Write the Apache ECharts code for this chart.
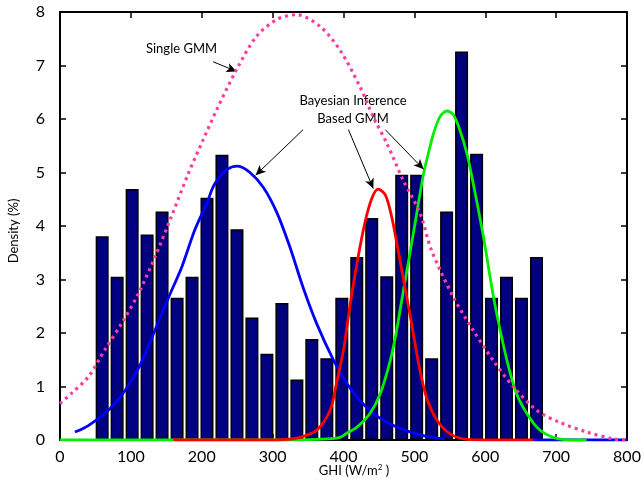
<!DOCTYPE html>
<html>
<head>
<meta charset="utf-8">
<script src="https://cdn.jsdelivr.net/npm/echarts@6/dist/echarts.min.js"></script>
<style>
html,body{margin:0;padding:0;background:#fff;}
#chart{width:644px;height:487px;}
</style>
</head>
<body>
<div id="chart"></div>
<script>
// Histogram bin centres (GHI, W/m2) and densities (%)
var binCenters = [59.5, 80.6, 101.8, 122.9, 144.0, 165.2, 186.3, 207.4, 228.5, 249.7,
                  270.8, 291.9, 313.1, 334.2, 355.3, 376.5, 397.6, 418.7, 439.8, 461.0,
                  482.1, 503.2, 524.4, 545.5, 566.6, 587.8, 608.9, 630.0, 651.1, 672.3];
var density = [3.81, 3.05, 4.69, 3.84, 4.27, 2.66, 3.05, 4.53, 5.33, 3.94,
               2.29, 1.61, 2.56, 1.13, 1.89, 1.53, 2.66, 3.42, 4.15, 3.06,
               4.96, 4.96, 1.53, 4.27, 7.26, 5.35, 2.66, 3.05, 2.66, 3.42];

// Single GMM (pink dotted)
var singleGmm = [[0,0.68],[16,0.87],[40,1.18],[63,1.68],[87,2.18],[110,2.72],[134,3.42],
  [157,4.17],[181,4.98],[202,5.61],[221,6.17],[249,6.92],[277,7.54],[306,7.86],[334,7.95],
  [367,7.73],[395,7.29],[423,6.61],[442,6.04],[461,5.55],[484,4.86],[508,4.24],[524,3.55],
  [555,2.67],[583,2.05],[611,1.49],[640,0.99],[673,0.55],[705,0.33],[743,0.15],[781,0.02],[800,0]];

// Bayesian inference based GMM components
var compBlue = [[21,0.15],[40,0.27],[70,0.58],[92,0.93],[113,1.40],[134,2.05],[153,2.66],
  [172,3.24],[190,3.92],[207,4.42],[218,4.78],[235,5.05],[251,5.12],[268,5.00],[287,4.72],
  [306,4.25],[324,3.62],[343,2.85],[362,2.18],[386,1.49],[405,1.05],[423,0.74],[442,0.50],
  [461,0.33],[489,0.17],[517,0.07],[543,0.02]];
var compBlueTail = [[668,0],[800,0]];
var compRed = [[160,0],[300,0],[320,0.01],[339,0.05],[362,0.18],[381,0.55],[390,1.05],
  [400,1.68],[409,2.5],[419,3.30],[430,4.05],[440,4.52],[449,4.69],[459,4.58],[468,4.17],
  [477,3.55],[487,2.83],[496,2.18],[506,1.43],[517,0.80],[532,0.37],[550,0.12],[574,0.01],
  [600,0],[668,0]];
var compGreen = [[0,0],[330,0],[376,0.02],[395,0.05],[405,0.13],[419,0.24],[437,0.49],
  [452,0.87],[466,1.49],[475,2.05],[482,2.6],[492,3.36],[501,4.05],[513,4.98],[522,5.48],
  [527,5.73],[536,6.04],[546,6.15],[555,6.08],[564,5.80],[574,5.36],[584,4.73],[597,3.83],
  [611,2.72],[621,2.05],[633,1.36],[644,0.87],[659,0.49],[675,0.21],[696,0.05],[724,0],[743,0]];

// Annotation arrows (data coordinates: start -> tip)
var arrows = [
  [[216,7.07],[249,6.89]],
  [[343,5.80],[276,4.95]],
  [[407,5.80],[442,4.70]],
  [[459,5.80],[513,5.06]]
];

var xTicks = {min:0, max:800, interval:100};
var yTicks = {min:0, max:8, interval:1};

var FONT = 'Lato, "Open Sans", sans-serif';
var chart = echarts.init(document.getElementById('chart'), null, {renderer:'canvas'});

function bars(){
  var d = [];
  for (var i=0;i<binCenters.length;i++) d.push([binCenters[i], density[i]]);
  return d;
}

var axisLineStyle = {show:true, onZero:false, lineStyle:{color:'#000', width:2}};
var tickStyle = {show:true, inside:true, length:6, lineStyle:{color:'#000', width:1.5}};
var option = {
  animation:false,
  backgroundColor:'#fff',
  grid:{left:60, right:17, top:12, bottom:47, containLabel:false},
  xAxis:[
    {type:'value', min:xTicks.min, max:xTicks.max, interval:xTicks.interval, position:'bottom',
     axisLine:axisLineStyle, axisTick:tickStyle,
     axisLabel:{show:true, margin:9, fontSize:16, color:'#000', fontFamily:FONT},
     splitLine:{show:false}},
    {type:'value', min:xTicks.min, max:xTicks.max, interval:xTicks.interval, position:'top',
     axisLine:axisLineStyle, axisTick:tickStyle,
     axisLabel:{show:false}, splitLine:{show:false}}
  ],
  yAxis:[
    {type:'value', min:yTicks.min, max:yTicks.max, interval:yTicks.interval, position:'left',
     axisLine:axisLineStyle, axisTick:tickStyle,
     axisLabel:{show:true, margin:15, fontSize:16, color:'#000', fontFamily:FONT},
     splitLine:{show:false}},
    {type:'value', min:yTicks.min, max:yTicks.max, interval:yTicks.interval, position:'right',
     axisLine:axisLineStyle, axisTick:tickStyle,
     axisLabel:{show:false}, splitLine:{show:false}}
  ],
  series:[
    {type:'bar', name:'Histogram', data:bars(), barWidth:13,
     itemStyle:{color:'#000080', borderColor:'#000', borderWidth:1.5}, z:1},
    {type:'line', name:'Blue', data:compBlue, showSymbol:false, smooth:0.3,
     lineStyle:{color:'#0000ff', width:2.8}, z:3},
    {type:'line', name:'BlueTail', data:compBlueTail, showSymbol:false,
     lineStyle:{color:'#0000ff', width:2.8}, z:3},
    {type:'line', name:'Green', data:compGreen, showSymbol:false, smooth:0.3,
     lineStyle:{color:'#00ee00', width:2.8}, z:4},
    {type:'line', name:'Red', data:compRed, showSymbol:false, smooth:0.3,
     lineStyle:{color:'#ff0000', width:2.8}, z:5},
    {type:'line', name:'Single GMM', data:singleGmm, showSymbol:false, smooth:0.3,
     lineStyle:{color:'#ff3d9e', width:3.2, type:[3,4]}, z:6,
     markLine:{silent:true, symbol:['none','arrow'], symbolSize:[7,10],
       label:{show:false}, lineStyle:{color:'#000', width:1, type:'solid'},
       data: arrows.map(function(a){return [{coord:a[0]},{coord:a[1]}];})}}
  ],
  graphic:[
    {type:'text', left:146, top:42, style:{text:'Single GMM', fontSize:13, fontFamily:FONT, fill:'#000'}},
    {type:'text', x:353, y:101, style:{text:'Bayesian Inference', fontSize:13, fontFamily:FONT, fill:'#000', align:'center', verticalAlign:'middle'}},
    {type:'text', x:353, y:119, style:{text:'Based GMM', fontSize:13, fontFamily:FONT, fill:'#000', align:'center', verticalAlign:'middle'}},
    {type:'text', x:354, y:471, style:{text:'GHI (W/m{s|2} )', fontSize:13, fontFamily:FONT, fill:'#000', align:'center', verticalAlign:'middle',
       rich:{s:{fontSize:8, fontFamily:FONT, padding:[0,0,7,0]}}}},
    {type:'text', x:14, y:231, rotation:Math.PI/2, style:{text:'Density (%)', fontSize:13, fontFamily:FONT, fill:'#000', align:'center', verticalAlign:'middle'}}
  ]
};
chart.setOption(option);
</script>
</body>
</html>
